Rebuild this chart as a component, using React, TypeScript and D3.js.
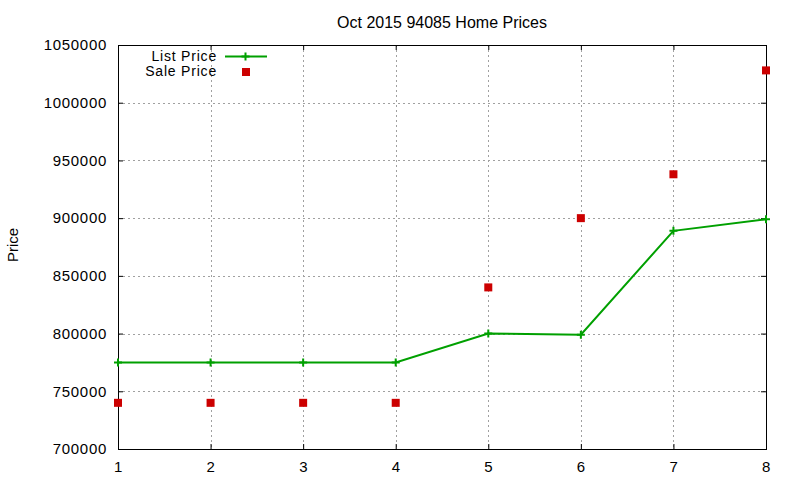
import React, { useEffect, useRef } from 'react';
import * as d3 from 'd3';

// chart data
const xValues = [1, 2, 3, 4, 5, 6, 7, 8];
const listPrice = [775000, 775000, 775000, 775000, 800000, 799000, 889000, 899000];
const salePrice = [740000, 740000, 740000, 740000, 840000, 900000, 938000, 1028000];
const yTicks = [700000, 750000, 800000, 850000, 900000, 950000, 1000000, 1050000];
const xTicks = [1, 2, 3, 4, 5, 6, 7, 8];
const seriesNames = ['List Price', 'Sale Price'];

const width = 800;
const height = 480;
const FONT = '"Liberation Sans", Arial, sans-serif';

const App: React.FC = () => {
  const chartRef = useRef<SVGSVGElement | null>(null);

  useEffect(() => {
    if (!chartRef.current) return;
    const svg = d3.select(chartRef.current);
    svg.selectAll('*').remove();

    const margin = { top: 45, right: 34, bottom: 31, left: 118 };
    const innerWidth = width - margin.left - margin.right;
    const innerHeight = height - margin.top - margin.bottom;

    svg.append('rect').attr('width', width).attr('height', height).attr('fill', '#fff');

    const x = d3.scaleLinear().domain([1, 8]).range([0, innerWidth]);
    const y = d3.scaleLinear().domain([700000, 1050000]).range([innerHeight, 0]);

    const g = svg.append('g').attr('transform', `translate(${margin.left},${margin.top})`);

    // grid
    const grid = g.append('g').attr('stroke', '#a0a0a0').attr('stroke-width', 1).attr('stroke-dasharray', '2,3');
    grid
      .selectAll('line.gy')
      .data(yTicks)
      .join('line')
      .attr('x1', 0)
      .attr('x2', innerWidth)
      .attr('y1', (d) => Math.round(y(d)) + 0.5)
      .attr('y2', (d) => Math.round(y(d)) + 0.5);
    grid
      .selectAll('line.gx')
      .data(xTicks)
      .join('line')
      .attr('y1', 0)
      .attr('y2', innerHeight)
      .attr('x1', (d) => Math.round(x(d)) + 0.5)
      .attr('x2', (d) => Math.round(x(d)) + 0.5);

    // axes: ticks inward, mirrored
    const tickLen = 5;
    const left = g.append('g').call(d3.axisLeft(y).tickValues(yTicks).tickSize(-tickLen).tickPadding(6 + tickLen).tickFormat(d3.format('d')));
    const right = g
      .append('g')
      .attr('transform', `translate(${innerWidth},0)`)
      .call(d3.axisRight(y).tickValues(yTicks).tickSize(-tickLen).tickFormat(() => ''));
    const bottom = g
      .append('g')
      .attr('transform', `translate(0,${innerHeight})`)
      .call(d3.axisBottom(x).tickValues(xTicks).tickSize(-tickLen).tickPadding(7 + tickLen).tickFormat(d3.format('d')));
    const top = g.append('g').call(d3.axisTop(x).tickValues(xTicks).tickSize(-tickLen).tickFormat(() => ''));

    [left, right, bottom, top].forEach((a) => {
      a.select('.domain').remove();
      a.selectAll('line').attr('stroke', '#000');
      a.selectAll('text')
        .attr('fill', '#000')
        .style('font-family', FONT)
        .style('font-size', '15px')
        .style('letter-spacing', '0.7px');
    });

    g.append('rect')
      .attr('x', 0.5)
      .attr('y', 0.5)
      .attr('width', innerWidth)
      .attr('height', innerHeight)
      .attr('fill', 'none')
      .attr('stroke', '#000')
      .attr('stroke-width', 1);

    // list price line
    const green = '#00a000';
    const red = '#cc0000';
    const line = d3
      .line<number>()
      .x((_, i) => x(xValues[i]))
      .y((d) => y(d));
    g.append('path').datum(listPrice).attr('fill', 'none').attr('stroke', green).attr('stroke-width', 2).attr('d', line);

    const plus = (sel: d3.Selection<SVGGElement, unknown, null, undefined>, cx: number, cy: number) => {
      sel
        .append('path')
        .attr('d', `M${cx - 4},${cy}H${cx + 4}M${cx},${cy - 4}V${cy + 4}`)
        .attr('stroke', green)
        .attr('stroke-width', 2)
        .attr('fill', 'none');
    };
    listPrice.forEach((d, i) => plus(g, x(xValues[i]), y(d)));

    g.selectAll('rect.sale')
      .data(salePrice)
      .join('rect')
      .attr('class', 'sale')
      .attr('x', (_, i) => x(xValues[i]) - 4)
      .attr('y', (d) => y(d) - 4)
      .attr('width', 8)
      .attr('height', 8)
      .attr('fill', red);

    // legend
    const leg = svg.append('g');
    const textStyle = (t: d3.Selection<SVGTextElement, unknown, null, undefined>) =>
      t.style('font-family', FONT).style('font-size', '14px').style('letter-spacing', '0.8px').attr('text-anchor', 'end').attr('dy', '0.35em');
    textStyle(leg.append('text').attr('x', 217).attr('y', 56).text(seriesNames[0]));
    textStyle(leg.append('text').attr('x', 217).attr('y', 71).text(seriesNames[1]));
    leg.append('line').attr('x1', 225).attr('x2', 267).attr('y1', 56.5).attr('y2', 56.5).attr('stroke', green).attr('stroke-width', 2);
    plus(leg, 245.5, 56.5);
    leg.append('rect').attr('x', 242).attr('y', 68).attr('width', 8).attr('height', 8).attr('fill', red);

    // title and y label
    svg
      .append('text')
      .attr('x', 442)
      .attr('y', 28)
      .attr('text-anchor', 'middle')
      .style('font-family', FONT)
      .style('font-size', '16px')
      .text('Oct 2015 94085 Home Prices');
    svg
      .append('text')
      .attr('transform', 'translate(18,245) rotate(-90)')
      .attr('text-anchor', 'middle')
      .style('font-family', FONT)
      .style('font-size', '15px')
      .text('Price');
  }, []);

  return (
    <svg
      ref={chartRef}
      width={width}
      height={height}
      style={{ position: 'absolute', left: 0, top: 0, display: 'block' }}
    ></svg>
  );
};

export default App;
